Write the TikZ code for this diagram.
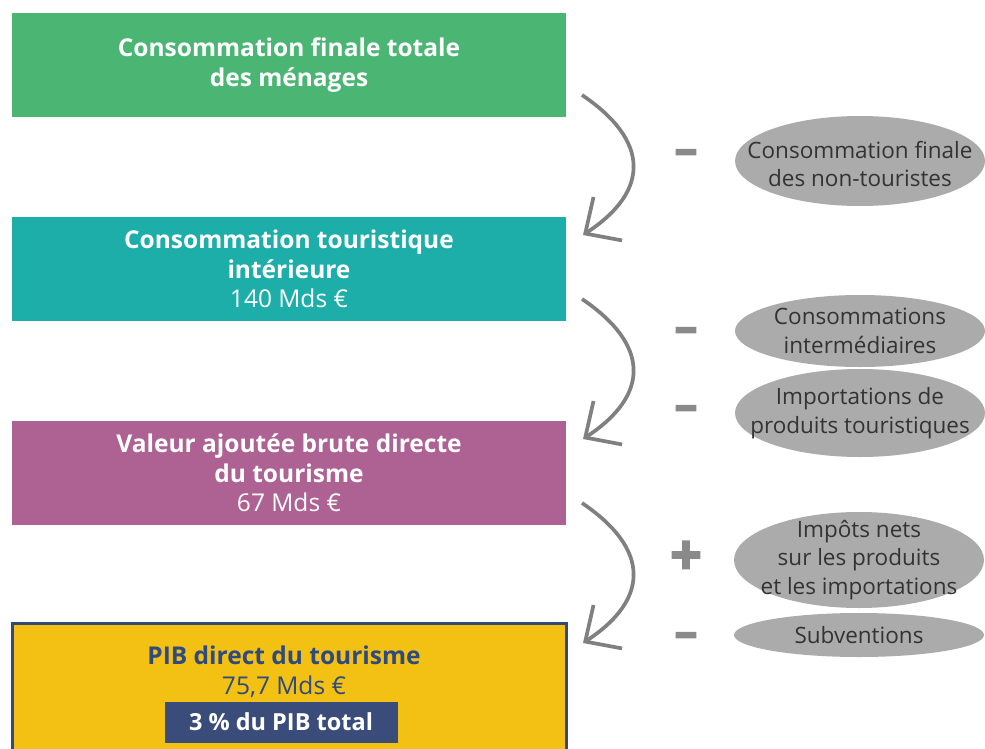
\documentclass[tikz,border=0pt]{standalone}
\usepackage{fontspec}
\setmainfont{Open Sans}
\newfontfamily\signfont[BoldFeatures={FakeBold=3}]{Open Sans}
\usetikzlibrary{arrows.meta,shapes.geometric}
\definecolor{cgreen}{HTML}{4BB574}
\definecolor{cteal}{HTML}{1DAEAA}
\definecolor{cpurple}{HTML}{AD6293}
\definecolor{cyellow}{HTML}{F2C114}
\definecolor{cnavy}{HTML}{2E4A7E}
\definecolor{cinner}{HTML}{3A4C79}
\definecolor{cell}{HTML}{ABABAB}
\definecolor{celltext}{HTML}{333333}
\definecolor{csign}{HTML}{8A8A8A}
\definecolor{carrow}{HTML}{808080}
\begin{document}
\begin{tikzpicture}[x=1pt,y=-1pt,
  box/.style={rectangle, minimum width=554pt, minimum height=104pt, inner sep=0pt,
    align=center, text=white, font=\fontsize{24.5}{29.5}\selectfont},
  oval/.style={ellipse, fill=cell, minimum width=250pt, inner sep=0pt},
  ovaltext/.style={align=center, inner sep=0pt, text=celltext, font=\fontsize{22.5}{28.5}\selectfont},
  sign/.style={text=csign, font=\signfont\fontsize{46}{46}\selectfont\bfseries, inner sep=0pt},
  flow/.style={draw=carrow, line width=3.7pt, -{Straight Barb[length=27pt,width=52pt]}}]
\useasboundingbox (0,0) rectangle (985,749);
\clip (0,0) rectangle (985,749);

\node[box, fill=cgreen] (b1) at (289,65) {\bfseries Consommation finale totale\\\bfseries des ménages};
\node[box, fill=cteal] (b2) at (289,269) {\bfseries Consommation touristique\\\bfseries intérieure\\140 Mds €};
\node[box, fill=cpurple] (b3) at (289,473) {\bfseries Valeur ajoutée brute directe\\\bfseries du tourisme\\67 Mds €};
\node[box, fill=cyellow, draw=cnavy, line width=3pt, minimum height=140pt] (b4) at (289,693) {};
\node[align=center, text=cnavy, inner sep=0pt, font=\fontsize{24.5}{29.5}\selectfont] (b4t) at (284,672) {\bfseries PIB direct du tourisme\\75,7 Mds €};
\node[fill=cinner, text=white, minimum width=233pt, minimum height=41pt, inner sep=0pt,
  font=\fontsize{23.5}{29}\selectfont\bfseries] (b4p) at (281,722) {3 \% du PIB total};

\node[oval, minimum height=90pt] (e1) at (860,161) {};
\node[ovaltext] (t1) at (860,164) {Consommation finale\\des non-touristes};
\node[oval, minimum height=72pt] (e2) at (860,331) {};
\node[ovaltext] (t2) at (e2) {Consommations\\intermédiaires};
\node[oval, minimum height=88pt] (e3) at (860,413) {};
\node[ovaltext] (t3) at (e3) {Importations de\\produits touristiques};
\node[oval, minimum height=96pt] (e4) at (859,560) {};
\node[ovaltext] (t4) at (e4) {Impôts nets\\sur les produits\\et les importations};
\node[oval, minimum height=44pt] (e5) at (859,635) {};
\node[ovaltext] (t5) at (e5) {Subventions};

\node[sign] (s1) at (686,157) {–};
\node[sign] (s2) at (686,335) {–};
\node[sign] (s3) at (686,413) {–};
\node[sign, font=\signfont\fontsize{56}{56}\selectfont\bfseries] (s4) at (686,558) {+};
\node[sign] (s5) at (686,640) {–};

\coordinate (a1s) at (582,95);  \coordinate (a1e) at (583,235);
\coordinate (a2s) at (582,299); \coordinate (a2e) at (583,439);
\coordinate (a3s) at (582,503); \coordinate (a3e) at (583,643);
\draw[flow] (a1s) .. controls (650,141) and (650,191) .. (a1e);
\draw[flow] (a2s) .. controls (650,345) and (650,395) .. (a2e);
\draw[flow] (a3s) .. controls (650,549) and (650,599) .. (a3e);
\end{tikzpicture}
\end{document}
